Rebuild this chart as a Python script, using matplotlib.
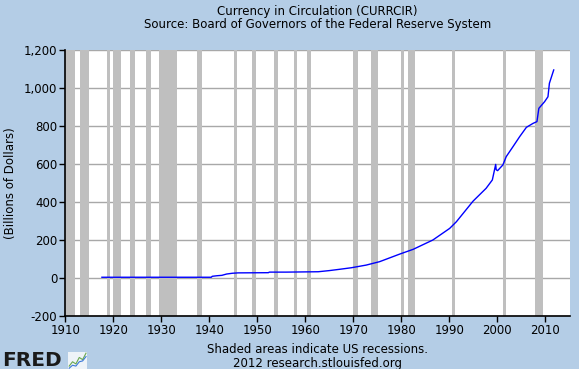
import matplotlib
matplotlib.use("Agg")
import matplotlib.pyplot as plt
from matplotlib.ticker import FuncFormatter

# -----------------------
# DATA
# -----------------------
years = [1917.6, 1930.0, 1940.4, 1940.6, 1941.6, 1942.6, 1943.6, 1944.8, 1946.0,
         1952.3, 1952.5, 1956.0, 1962.7, 1965.0, 1967.2, 1969.6, 1972.7, 1975.5,
         1979.7, 1982.5, 1986.6, 1990.1, 1991.5, 1995.0, 1997.7, 1999.0, 1999.7,
         1999.8, 2000.1, 2001.2, 2001.9, 2003.3, 2004.7, 2006.1, 2007.5, 2008.3,
         2008.7, 2009.9, 2010.6, 2010.9, 2011.8]
currency = [4, 4, 4, 9, 12, 14, 21, 25, 27,
            28, 31, 31, 33, 39, 46, 54, 68, 86,
            126, 151, 200, 261, 296, 405, 472, 516, 598,
            570, 565, 595, 639, 691, 744, 793, 814, 823,
            893, 928, 954, 1025, 1095]

recession_start = [1910.0, 1913.0, 1918.6, 1920.0, 1923.4, 1926.8, 1929.6, 1937.4,
                   1945.1, 1948.8, 1953.5, 1957.6, 1960.3, 1969.9, 1973.8, 1980.0,
                   1981.5, 1990.5, 2001.2, 2007.9]
recession_end = [1912.0, 1914.9, 1919.2, 1921.5, 1924.5, 1927.8, 1933.2, 1938.5,
                 1945.8, 1949.8, 1954.4, 1958.3, 1961.1, 1970.9, 1975.2, 1980.5,
                 1982.9, 1991.2, 2001.9, 2009.5]

x_ticks = list(range(1910, 2011, 10))
y_ticks = list(range(-200, 1201, 200))

# -----------------------
# PLOT
# -----------------------
BG = "#b4cde6"

fig = plt.figure(figsize=(5.79, 3.69), dpi=100, facecolor=BG)
ax = fig.add_axes([0.1131, 0.1436, 0.8714, 0.7209])
ax.set_facecolor("white")

for s, e in zip(recession_start, recession_end):
    ax.axvspan(s, e, color="#bfbfbf", lw=0, zorder=1)

ax.plot(years, currency, color="#0000ff", lw=1.0, zorder=3)

ax.set_xlim(1910, 2015.2)
ax.set_ylim(-200, 1200)
ax.set_xticks(x_ticks)
ax.set_yticks(y_ticks)
ax.yaxis.set_major_formatter(FuncFormatter(lambda v, p: f"{int(v):,}"))

ax.set_axisbelow(True)
ax.grid(axis="y", color="#a8a8a8", lw=1.0)

for side in ["top", "right"]:
    ax.spines[side].set_visible(False)
for side in ["left", "bottom"]:
    ax.spines[side].set_color("black")
    ax.spines[side].set_linewidth(1.2)

ax.tick_params(axis="both", direction="out", length=4, width=1, colors="black",
               labelsize=8.5, pad=2)

ax.set_ylabel("(Billions of Dollars)", fontsize=8.5, labelpad=5)

fig.text(0.548, 0.970, "Currency in Circulation (CURRCIR)", ha="center", va="center", fontsize=8.5)
fig.text(0.548, 0.934, "Source: Board of Governors of the Federal Reserve System",
         ha="center", va="center", fontsize=8.5)

fig.text(0.548, 0.052, "Shaded areas indicate US recessions.", ha="center", va="center", fontsize=8.5)
fig.text(0.548, 0.015, "2012 research.stlouisfed.org", ha="center", va="center", fontsize=8.5)

# FRED logo
fig.text(0.003, 0.024, "FRED", ha="left", va="center", fontsize=14.5, fontweight="bold",
         color="#1a1a1a")
logo_x = [0, 1, 2, 3, 4, 5]
logo_a = [1, 2, 1.5, 3, 2.5, 4]
logo_b = [0.5, 1.2, 1.0, 2.0, 2.2, 3.2]
lax = fig.add_axes([0.118, 0.0, 0.032, 0.045])
lax.set_facecolor("#eef3f8")
lax.plot(logo_x, logo_a, color="#6aa84f", lw=0.8)
lax.plot(logo_x, logo_b, color="#3c78d8", lw=0.8)
lax.set_xticks([])
lax.set_yticks([])
for sp in lax.spines.values():
    sp.set_visible(False)

fig.savefig("out.png", dpi=100, facecolor=BG)
